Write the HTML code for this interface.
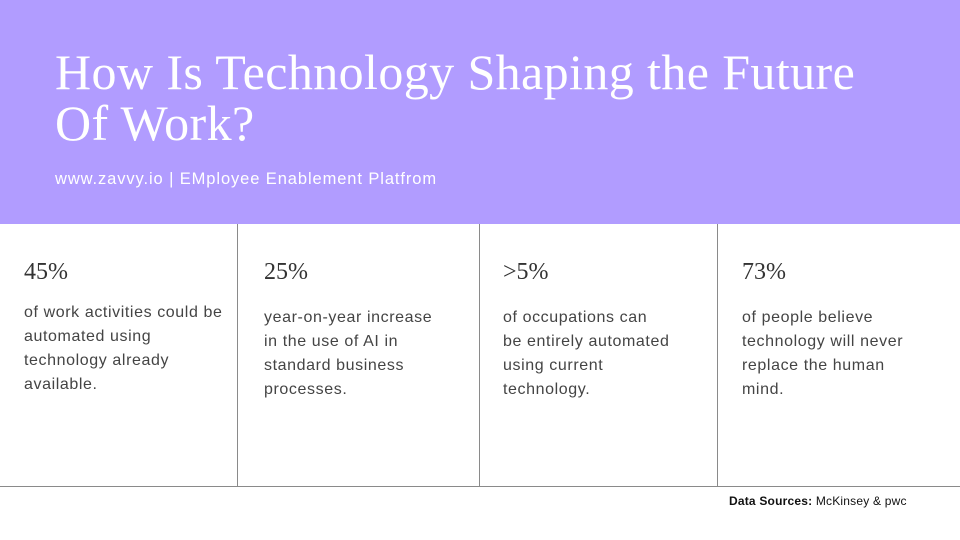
<!DOCTYPE html>
<html><head><meta charset="utf-8"><style>
body{margin:0;width:960px;height:540px;background:#fff;position:relative;overflow:hidden;font-family:"Liberation Sans",sans-serif}
.hdr{position:absolute;left:0;top:0;width:960px;height:224px;background:#b19cff}
.t{position:absolute;left:55px;top:47px;color:#fff;font-family:"Liberation Serif",serif;font-size:50px;line-height:51px;letter-spacing:0.4px;white-space:nowrap}
.s{position:absolute;left:55px;top:170px;color:#fff;font-size:16.5px;letter-spacing:0.9px}
.v{position:absolute;top:224px;width:1px;height:262px;background:#8a8a8a}
.h{position:absolute;left:0;top:486px;width:960px;height:1px;background:#8a8a8a}
.n{position:absolute;font-family:"Liberation Serif",serif;font-size:24px;color:#333}
.b{position:absolute;font-size:16px;line-height:24px;color:#444;letter-spacing:0.6px}
.src{position:absolute;left:729px;top:494px;font-size:12px;color:#111;letter-spacing:0.2px}
</style></head><body>
<div class="hdr"></div>
<div class="t">How Is Technology Shaping the Future<br>Of Work?</div>
<div class="s">www.zavvy.io | EMployee Enablement Platfrom</div>
<div class="v" style="left:237px"></div>
<div class="v" style="left:479px"></div>
<div class="v" style="left:717px"></div>
<div class="h"></div>
<div class="n" style="left:24px;top:259px">45%</div>
<div class="b" style="left:24px;top:301px">of work activities could be<br>automated using<br>technology already<br>available.</div>
<div class="n" style="left:264px;top:259px">25%</div>
<div class="b" style="left:264px;top:306px">year-on-year increase<br>in the use of AI in<br>standard business<br>processes.</div>
<div class="n" style="left:503px;top:259px">&gt;5%</div>
<div class="b" style="left:503px;top:306px">of occupations can<br>be entirely automated<br>using current<br>technology.</div>
<div class="n" style="left:742px;top:259px">73%</div>
<div class="b" style="left:742px;top:306px">of people believe<br>technology will never<br>replace the human<br>mind.</div>
<div class="src"><b>Data Sources:</b> McKinsey &amp; pwc</div>
</body></html>
